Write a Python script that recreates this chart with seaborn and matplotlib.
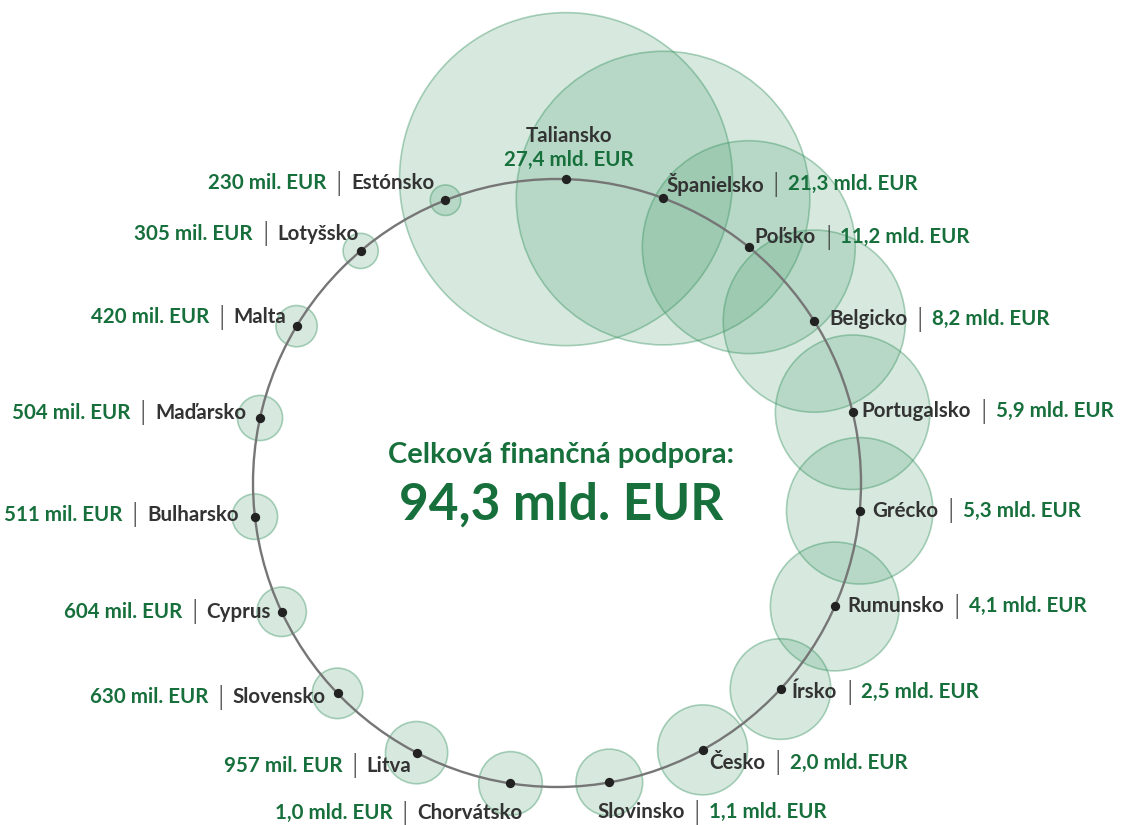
import numpy as np
import pandas as pd
import seaborn as sns
import matplotlib.pyplot as plt
from matplotlib.patches import Circle

# countries in clockwise order from the top
countries = ['Taliansko', 'Španielsko', 'Poľsko', 'Belgicko', 'Portugalsko', 'Grécko',
             'Rumunsko', 'Írsko', 'Česko', 'Slovinsko', 'Chorvátsko', 'Litva', 'Slovensko',
             'Cyprus', 'Bulharsko', 'Maďarsko', 'Malta', 'Lotyšsko', 'Estónsko']
# financial support in bn EUR
values = [27.4, 21.3, 11.2, 8.2, 5.9, 5.3, 4.1, 2.5, 2.0, 1.1, 1.0, 0.957, 0.630,
          0.604, 0.511, 0.504, 0.420, 0.305, 0.230]
value_labels = ['27,4 mld. EUR', '21,3 mld. EUR', '11,2 mld. EUR', '8,2 mld. EUR', '5,9 mld. EUR',
                '5,3 mld. EUR', '4,1 mld. EUR', '2,5 mld. EUR', '2,0 mld. EUR', '1,1 mld. EUR',
                '1,0 mld. EUR', '957 mil. EUR', '630 mil. EUR', '604 mil. EUR', '511 mil. EUR',
                '504 mil. EUR', '420 mil. EUR', '305 mil. EUR', '230 mil. EUR']
total_title = 'Celková finančná podpora:'
total_value = '94,3 mld. EUR'

GREEN = '#17703c'
DARK = '#333333'
BUBBLE = (0.23, 0.58, 0.39)

# label offsets (pixels) from each dot; side: 'c' centered, 'r' right of dot, 'l' left of dot
label_offsets = [(3, -19), (3, -14), (6, -10), (15, -2), (9, -1), (13, 0), (13, 0), (11, 3),
                 (7, 13), (-12, 30), (12, 30), (-5, 13), (-12, 4), (-11, 0), (-16, -2),
                 (-14, -5), (-10, -9), (-2, -17), (-11, -17)]
label_sides = ['c'] + ['r'] * 9 + ['l'] * 9

n = len(countries)
angles = np.deg2rad(1.7 + np.arange(n) * 18.71)
df = pd.DataFrame({'country': countries, 'value': values,
                   'x': np.sin(angles), 'y': np.cos(angles)})

plt.rcParams['font.family'] = ['Lato', 'DejaVu Sans']
fig = plt.figure(figsize=(11.21, 8.25), dpi=100)
ax = fig.add_axes([0, 0, 1, 1])

# bubbles, area proportional to value
smax = (333 * 0.72) ** 2
sns.scatterplot(data=df, x='x', y='y', size='value', sizes=(0, smax), size_norm=(0, values[0]),
                legend=False, ax=ax, zorder=1, linewidth=1.2)
bub = ax.collections[-1]
bub.set_facecolor((*BUBBLE, 0.2))
bub.set_edgecolor((*BUBBLE, 0.42))

# ring
ax.add_patch(Circle((0, 0), 1, fill=False, edgecolor='#767676', linewidth=1.7, zorder=2))

# dots
sns.scatterplot(data=df, x='x', y='y', color='#222222', s=45, linewidth=0, ax=ax, zorder=3,
                legend=False)

fs = 14.8
for i, row in df.iterrows():
    off = label_offsets[i]
    side = label_sides[i]
    xy = (row['x'], row['y'])
    if side == 'c':
        ax.annotate(row['country'], xy=xy, xytext=(off[0], -off[1] + 24), textcoords='offset pixels',
                    ha='center', va='center', fontsize=fs, fontweight='bold', color=DARK, zorder=5)
        ax.annotate(value_labels[i], xy=xy, xytext=(off[0], -off[1]), textcoords='offset pixels',
                    ha='center', va='center', fontsize=fs, fontweight='bold', color=GREEN, zorder=5)
        continue
    if side == 'r':
        ha, anchor, gap = 'left', 1, 8
    else:
        ha, anchor, gap = 'right', 0, -8
    t1 = ax.annotate(row['country'], xy=xy, xytext=(off[0], -off[1]), textcoords='offset pixels',
                     ha=ha, va='center', fontsize=fs, fontweight='bold', color=DARK, zorder=5)
    t2 = ax.annotate('|', xy=(anchor, 0.5), xycoords=t1, xytext=(gap, 0), textcoords='offset pixels',
                     ha=ha, va='center', fontsize=fs + 3, color=DARK, zorder=5,
                     family='DejaVu Sans', fontweight='light')
    ax.annotate(value_labels[i], xy=(anchor, 0.5), xycoords=t2, xytext=(gap, 0),
                textcoords='offset pixels', ha=ha, va='center', fontsize=fs, fontweight='bold',
                color=GREEN, zorder=5)

ax.text(0.5004, 0.4485, total_title, transform=ax.transAxes, ha='center', va='center',
        fontsize=21, fontweight='bold', color=GREEN)
ax.text(0.5004, 0.388, total_value, transform=ax.transAxes, ha='center', va='center',
        fontsize=37, fontweight='bold', color=GREEN)

r = 304
ax.set_xlim(-557 / r, (1121 - 557) / r)
ax.set_ylim(-(825 - 483) / r, 483 / r)
ax.set_aspect('equal')
ax.axis('off')

plt.savefig('out.png', dpi=100)
